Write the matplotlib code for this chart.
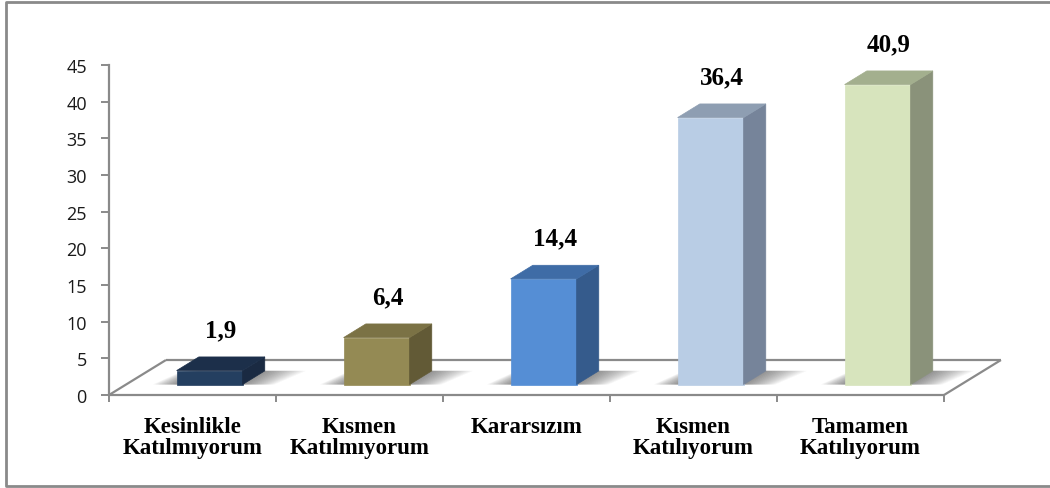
import matplotlib
matplotlib.use("Agg")
import matplotlib.pyplot as plt
from matplotlib.patches import Polygon
from matplotlib.lines import Line2D

# ---- data ----
categories = ["Kesinlikle\nKatılmıyorum", "Kısmen\nKatılmıyorum", "Kararsızım",
              "Kısmen\nKatılıyorum", "Tamamen\nKatılıyorum"]
values = [1.9, 6.4, 14.4, 36.4, 40.9]
value_labels = ["1,9", "6,4", "14,4", "36,4", "40,9"]
y_ticks = [0, 5, 10, 15, 20, 25, 30, 35, 40, 45]

# face colours per bar: front, top, side
front_colors = ["#243F60", "#948A54", "#558ED5", "#B9CDE5", "#D7E4BD"]
top_colors = ["#1C2F4A", "#7B7245", "#3F6CA6", "#8E9EB2", "#A3AF8E"]
side_colors = ["#1A2A42", "#625A36", "#355B8C", "#76849A", "#8A927A"]

# ---- pseudo-3D geometry (category units / value units) ----
DX = 0.341      # horizontal depth shift of the floor
DY = 4.77       # vertical depth shift of the floor
F0, F1 = 0.30, 0.69   # bar depth span as fractions of the floor depth
BW = 0.395      # bar width
GRID = "#8A8A8A"

W, H = 1050, 489
fig = plt.figure(figsize=(W / 100, H / 100), dpi=100)
ax = fig.add_axes([109 / W, (H - 396) / H, (944 - 109) / W, (396 - 66) / H])
ax.set_xlim(-0.5, 4.5)
ax.set_ylim(0, 45)
ax.patch.set_alpha(0)

# floor
x0, x1 = -0.5, len(categories) - 0.5
floor = Polygon([(x0, 0), (x1, 0), (x1 + DX, DY), (x0 + DX, DY)],
                closed=True, facecolor="white", edgecolor="none",
                clip_on=False, zorder=0.5)
ax.add_patch(floor)
for xs, ys in [([x0, x0 + DX], [0, DY]),
               ([x0 + DX, x1 + DX], [DY, DY]),
               ([x1, x1 + DX], [0, DY]),
               ([x0, x1], [0, 0])]:
    ax.plot(xs, ys, color=GRID, lw=1.6, clip_on=False, zorder=1,
            solid_capstyle="butt")

# bars
y0 = F0 * DY
ddx = (F1 - F0) * DX
ddy = (F1 - F0) * DY
n_layers = 16
for i, v in enumerate(values):
    xl = i + F0 * DX - BW / 2
    xr = xl + BW
    # soft shadow on the floor
    for k in range(1, n_layers + 1):
        e = 0.19 * k / n_layers
        shadow = Polygon([(xl - 0.75 * e, y0), (xr + e, y0),
                          (xr + ddx + 1.3 * e, y0 + ddy),
                          (xl + ddx - 0.5 * e, y0 + ddy)],
                         closed=True, facecolor="#3a3a3a", edgecolor="none",
                         alpha=0.045, clip_on=False, zorder=2)
        ax.add_patch(shadow)
    top = y0 + v
    ax.add_patch(Polygon([(xl, y0), (xr, y0), (xr, top), (xl, top)],
                         closed=True, facecolor=front_colors[i],
                         edgecolor=front_colors[i], lw=0.5, zorder=3))
    ax.add_patch(Polygon([(xr, y0), (xr + ddx, y0 + ddy),
                          (xr + ddx, top + ddy), (xr, top)],
                         closed=True, facecolor=side_colors[i],
                         edgecolor=side_colors[i], lw=0.5, zorder=3,
                         clip_on=False))
    ax.add_patch(Polygon([(xl, top), (xr, top), (xr + ddx, top + ddy),
                          (xl + ddx, top + ddy)],
                         closed=True, facecolor=top_colors[i],
                         edgecolor=top_colors[i], lw=0.5, zorder=3,
                         clip_on=False))
    ax.text(xl + BW / 2 + ddx / 2, top + 5.6, value_labels[i],
            ha="center", va="center", fontsize=18, fontweight="bold",
            family="Liberation Serif", color="black", zorder=4)

# axes styling
for side in ["top", "right", "bottom"]:
    ax.spines[side].set_visible(False)
ax.spines["left"].set_color(GRID)
ax.spines["left"].set_linewidth(1.6)
ax.spines["left"].set_zorder(1)

ax.set_yticks(y_ticks)
ax.set_yticklabels([str(t) for t in y_ticks], family="Open Sans",
                   fontsize=13, color="#1a1a1a")
ax.tick_params(axis="y", direction="out", length=6, width=1.4,
               color=GRID, pad=10)

ax.set_xticks(range(len(categories)))
ax.set_xticklabels(categories, family="Liberation Serif", fontweight="bold",
                   fontsize=16.5, color="black", linespacing=0.98)
ax.set_xticks([x0 + k for k in range(len(categories) + 1)], minor=True)
ax.tick_params(axis="x", which="major", length=0, pad=15)
ax.tick_params(axis="x", which="minor", direction="out", length=5,
               width=1.4, color=GRID)

# chart frame
fy_top = 1 - 3 / H
fy_bot = 1 - 487 / H
fx_left = 6 / W
fig.add_artist(Line2D([1.02, fx_left, fx_left, 1.02],
                      [fy_top, fy_top, fy_bot, fy_bot],
                      transform=fig.transFigure, color="#8A8A8A", lw=2.0))

fig.savefig("out.png", dpi=100, facecolor="white")
